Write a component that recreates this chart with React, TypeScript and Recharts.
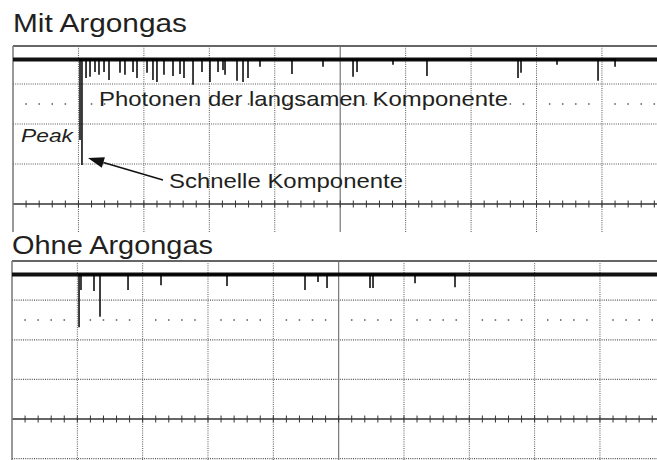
import React from 'react';
import { ComposedChart, Line, Scatter, XAxis, YAxis, ReferenceLine } from 'recharts';

// ---------- data (oscilloscope divisions) ----------
// Top panel: "Mit Argongas"
const topBaseline = 3.61;
const topSpikeX = [1.024, 1.054, 1.116, 1.177, 1.253, 1.314, 1.391, 1.467, 1.635, 1.711, 1.834, 1.895, 2.048, 2.139, 2.2, 2.307, 2.445, 2.552, 2.613, 2.751, 2.888, 3.01, 3.133, 3.209, 3.24, 3.423, 3.515, 3.591, 3.774, 4.263, 4.737, 5.196, 5.257, 5.807, 6.326, 7.717, 7.763, 8.313, 8.94, 9.2];
const topSpikeY = [1.6, 0.975, 3.15, 3.18, 3.3, 3.23, 3.3, 3.1, 3.28, 3.23, 3.3, 3.15, 3.28, 3.1, 3.05, 3.23, 3.2, 3.25, 3.15, 2.98, 3.3, 3.05, 3.3, 3.35, 3.23, 3.08, 3.05, 3.15, 3.43, 3.25, 3.43, 3.18, 3.3, 3.48, 3.2, 3.15, 3.28, 3.48, 3.08, 3.43];

// Bottom panel: "Ohne Argongas"
const bottomBaseline = 3.65;
const bottomSpikeX = [1.026, 1.056, 1.255, 1.347, 1.776, 2.281, 3.291, 4.485, 4.684, 4.822, 5.48, 5.526, 6.169, 6.781];
const bottomSpikeY = [2.32, 3.26, 3.23, 2.58, 3.26, 3.38, 3.36, 3.26, 3.46, 3.31, 3.31, 3.31, 3.43, 3.33];

// annotation arrow (tip, tail) in top-panel divisions
const arrowTip = { x: 1.146, y: 1.15 };
const arrowTail = { x: 2.292, y: 0.6 };

// ---------- graticule ----------
const majorX = [1, 2, 3, 4, 6, 7, 8, 9];
const minorAll: number[] = [];
const minorOff: number[] = [];
for (let i = 1; i < 50; i++) {
  minorAll.push(i / 5);
  if (i % 5 !== 0) minorOff.push(i / 5);
}
const tickData = minorAll.map((x) => ({ x, y: 0 }));
const dotData = minorOff.map((x) => ({ x, y: 2.5 }));

const buildSpikes = (xs: number[], ys: number[], base: number) => {
  const out: { x: number; y: number }[] = [];
  xs.forEach((x, i) => {
    out.push({ x, y: base });
    out.push({ x, y: ys[i] });
    out.push({ x, y: base });
  });
  return out;
};

const TickShape = (p: any) => (
  <line x1={p.cx} x2={p.cx} y1={p.cy - 3.5} y2={p.cy + 3.5} stroke="#333" strokeWidth={1} />
);
const DotShape = (p: any) => <rect x={p.cx - 0.75} y={p.cy - 0.75} width={1.5} height={1.5} fill="#555" />;

const ArrowShape = (props: any) => {
  const { x1, y1, x2, y2 } = props;
  if (x1 == null) return <g />;
  const ang = Math.atan2(y2 - y1, x2 - x1);
  const L = 16;
  const H = 5.5;
  const bx = x1 + L * Math.cos(ang);
  const by = y1 + L * Math.sin(ang);
  const px = -Math.sin(ang) * H;
  const py = Math.cos(ang) * H;
  return (
    <g>
      <line x1={bx} y1={by} x2={x2} y2={y2} stroke="#111" strokeWidth={1.5} />
      <polygon points={`${x1},${y1} ${bx + px},${by + py} ${bx - px},${by - py}`} fill="#111" />
    </g>
  );
};

const DOT = '1 1.2';
const GRID = '#555';

type PanelProps = {
  top: number;
  height: number;
  margin: { top: number; right: number; bottom: number; left: number };
  xMax: number;
  yDomain: [number, number];
  hLines: number[];
  baseline: number;
  spikes: { x: number; y: number }[];
  arrow?: boolean;
};

const Panel = ({ top, height, margin, xMax, yDomain, hLines, baseline, spikes, arrow }: PanelProps) => {
  const band = [
    { x: 0, y: baseline },
    { x: xMax, y: baseline },
  ];
  return (
    <div style={{ position: 'absolute', left: 0, top }}>
      <ComposedChart width={657} height={height} margin={margin}>
        <XAxis type="number" dataKey="x" domain={[0, xMax]} allowDataOverflow hide />
        <YAxis type="number" dataKey="y" domain={yDomain} allowDataOverflow hide />
        {majorX.map((x) => (
          <ReferenceLine key={'v' + x} x={x} stroke={GRID} strokeWidth={1} strokeDasharray={DOT} />
        ))}
        {hLines.map((y) => (
          <ReferenceLine key={'h' + y} y={y} stroke={GRID} strokeWidth={1.2} strokeDasharray={DOT} />
        ))}
        <ReferenceLine x={5} stroke="#777" strokeWidth={1.2} />
        <ReferenceLine y={0} stroke="#333" strokeWidth={1.6} />
        <ReferenceLine y={yDomain[1]} stroke="#666" strokeWidth={1.8} />
        <ReferenceLine x={0} stroke="#777" strokeWidth={1.5} />
        <Scatter data={tickData} shape={TickShape} isAnimationActive={false} />
        <Scatter data={dotData} shape={DotShape} isAnimationActive={false} />
        <Line data={band} dataKey="y" stroke="#111" strokeWidth={4} dot={false} type="linear" isAnimationActive={false} />
        <Line data={spikes} dataKey="y" stroke="#000" strokeWidth={1.5} dot={false} type="linear" isAnimationActive={false} />
        {arrow && <ReferenceLine segment={[arrowTip, arrowTail]} shape={ArrowShape} ifOverflow="visible" />}
      </ComposedChart>
    </div>
  );
};

const FONT = '"Liberation Sans", Arial, Helvetica, sans-serif';

export default function App() {
  const topSpikes = buildSpikes(topSpikeX, topSpikeY, topBaseline);
  const bottomSpikes = buildSpikes(bottomSpikeX, bottomSpikeY, bottomBaseline);
  return (
    <div style={{ position: 'absolute', left: 0, top: 0, width: 657, height: 460, background: '#fff', overflow: 'hidden' }}>
      <Panel
        top={0}
        height={240}
        margin={{ top: 46, right: 0, bottom: 8, left: 13 }}
        xMax={9.841}
        yDomain={[-0.7, 3.95]}
        hLines={[1, 2, 3]}
        baseline={topBaseline}
        spikes={topSpikes}
        arrow
      />
      <Panel
        top={240}
        height={220}
        margin={{ top: 21, right: 0, bottom: 0, left: 12 }}
        xMax={9.873}
        yDomain={[-1.035, 3.99]}
        hLines={[-1, 1, 2, 3]}
        baseline={bottomBaseline}
        spikes={bottomSpikes}
      />
      <svg width={657} height={460} style={{ position: 'absolute', left: 0, top: 0, pointerEvents: 'none' }}>
        <g fontFamily={FONT} fill="#231f20">
          <text x={13} y={32} fontSize={25} textLength={174} lengthAdjust="spacingAndGlyphs">Mit Argongas</text>
          <text x={12} y={254} fontSize={25} textLength={201} lengthAdjust="spacingAndGlyphs">Ohne Argongas</text>
          <text x={99} y={106} fontSize={21} textLength={409} lengthAdjust="spacingAndGlyphs">Photonen der langsamen Komponente</text>
          <text x={21} y={142} fontSize={19} fontStyle="italic" textLength={52} lengthAdjust="spacingAndGlyphs">Peak</text>
          <text x={169} y={188} fontSize={21} textLength={234} lengthAdjust="spacingAndGlyphs">Schnelle Komponente</text>
        </g>
      </svg>
    </div>
  );
}
